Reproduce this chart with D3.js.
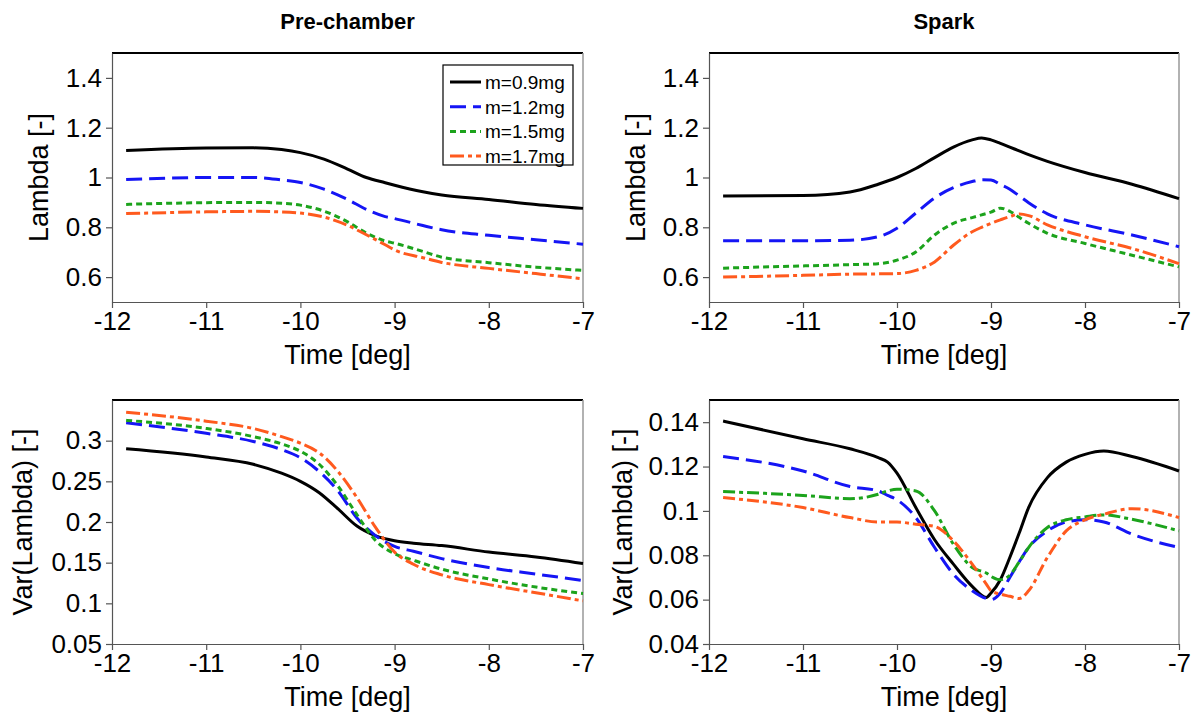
<!DOCTYPE html>
<html lang="en">
<head>
<meta charset="UTF-8">
<title>Lambda over time</title>
<style>
  body { margin: 0; background: #fff; }
  svg { font-family: "Liberation Sans", Arial, sans-serif; }
  .axis path, .axis line { stroke: #555; stroke-width: 1.2; }
  .axis text { fill: #000; font-size: 26px; }
  .label { font-size: 27px; fill: #000; }
  .title { font-size: 22px; font-weight: bold; fill: #000; }
  .legend text { font-size: 19px; fill: #000; }
</style>
<script src="https://d3js.org/d3.v7.min.js"></script>
</head>
<body>
<script>
// series labels
const seriesNames = ["m=0.9mg", "m=1.2mg", "m=1.5mg", "m=1.7mg"];

// Pre-chamber, Lambda
const timePL = [-11.85, -11, -10.5, -10.2, -10, -9.75, -9.5, -9.3, -9.1, -9, -8.7, -8.5, -8, -7.5, -7];
const pl09 = [1.108, 1.118, 1.119, 1.112, 1.10, 1.074, 1.034, 1.0, 0.979, 0.969, 0.943, 0.93, 0.912, 0.892, 0.876];
const pl12 = [0.992, 1.0, 1.0, 0.99, 0.98, 0.953, 0.912, 0.872, 0.843, 0.835, 0.807, 0.79, 0.768, 0.75, 0.732];
const pl15 = [0.892, 0.899, 0.9, 0.897, 0.889, 0.865, 0.822, 0.777, 0.745, 0.736, 0.703, 0.68, 0.658, 0.64, 0.627];
const pl17 = [0.855, 0.862, 0.864, 0.862, 0.857, 0.841, 0.808, 0.77, 0.73, 0.709, 0.678, 0.659, 0.635, 0.614, 0.593];

// Spark, Lambda
const timeSL = [-11.85, -11, -10.5, -10.2, -10, -9.8, -9.6, -9.4, -9.2, -9.1, -9, -8.9, -8.8, -8.7, -8.6, -8.4, -8, -7.5, -7];
const sl09 = [0.926, 0.928, 0.942, 0.973, 1.0, 1.036, 1.08, 1.122, 1.151, 1.159, 1.151, 1.137, 1.122, 1.107, 1.092, 1.065, 1.02, 0.973, 0.915];
const sl12 = [0.746, 0.746, 0.748, 0.762, 0.796, 0.857, 0.918, 0.959, 0.984, 0.991, 0.99, 0.972, 0.953, 0.926, 0.899, 0.854, 0.81, 0.769, 0.722];
const sl15 = [0.636, 0.645, 0.65, 0.654, 0.668, 0.701, 0.769, 0.816, 0.839, 0.85, 0.861, 0.877, 0.864, 0.84, 0.816, 0.776, 0.735, 0.688, 0.641];
const sl17 = [0.6, 0.607, 0.612, 0.613, 0.614, 0.627, 0.661, 0.728, 0.782, 0.80, 0.816, 0.83, 0.843, 0.853, 0.847, 0.81, 0.762, 0.715, 0.654];

// Pre-chamber, Var(Lambda)
const timePV = [-11.85, -11, -10.5, -10.2, -10, -9.8, -9.6, -9.4, -9.2, -9, -8.8, -8.5, -8, -7.5, -7];
const pv09 = [0.290, 0.280, 0.271, 0.260, 0.250, 0.236, 0.216, 0.195, 0.183, 0.177, 0.174, 0.171, 0.163, 0.157, 0.149];
const pv12 = [0.322, 0.309, 0.299, 0.289, 0.279, 0.262, 0.238, 0.205, 0.183, 0.170, 0.164, 0.155, 0.144, 0.136, 0.128];
const pv15 = [0.325, 0.315, 0.305, 0.296, 0.287, 0.271, 0.244, 0.209, 0.177, 0.161, 0.153, 0.142, 0.130, 0.120, 0.112];
const pv17 = [0.335, 0.324, 0.315, 0.305, 0.297, 0.285, 0.262, 0.230, 0.193, 0.163, 0.148, 0.135, 0.123, 0.113, 0.103];

// Spark, Var(Lambda)
const timeSV = [-11.85, -11, -10.5, -10.2, -10.1, -10, -9.8, -9.6, -9.4, -9.2, -9.05, -9, -8.9, -8.8, -8.7, -8.6, -8.4, -8.2, -8, -7.8, -7.5, -7];
const sv09 = [0.1405, 0.1325, 0.128, 0.124, 0.122, 0.117, 0.1015, 0.087, 0.076, 0.066, 0.061, 0.063, 0.069, 0.079, 0.090, 0.1015, 0.115, 0.122, 0.1255, 0.127, 0.1245, 0.118];
const sv12 = [0.1245, 0.118, 0.111, 0.109, 0.107, 0.105, 0.097, 0.0835, 0.0715, 0.064, 0.0605, 0.060, 0.063, 0.070, 0.077, 0.0835, 0.091, 0.095, 0.096, 0.095, 0.0895, 0.0835];
const sv15 = [0.1087, 0.107, 0.1055, 0.1075, 0.109, 0.1098, 0.109, 0.100, 0.085, 0.0745, 0.072, 0.0705, 0.069, 0.071, 0.077, 0.0835, 0.0925, 0.096, 0.0973, 0.0982, 0.0962, 0.091];
const sv17 = [0.106, 0.1015, 0.097, 0.095, 0.095, 0.095, 0.094, 0.093, 0.0865, 0.076, 0.067, 0.064, 0.0625, 0.0615, 0.0605, 0.064, 0.079, 0.091, 0.096, 0.0985, 0.101, 0.097];

const lambdaTicks = [0.6, 0.8, 1, 1.2, 1.4];
const varTicksP = [0.05, 0.1, 0.15, 0.2, 0.25, 0.3];
const varTicksS = [0.04, 0.06, 0.08, 0.1, 0.12, 0.14];
const timeTicks = [-12, -11, -10, -9, -8, -7];

const colors = ["#000000", "#1515f5", "#1ca31c", "#ff5a1e"];
const dashes = ["none", "16,7", "6,4", "14,4,4,4"];

const svg = d3.select("body").append("svg")
  .attr("width", 1198)
  .attr("height", 715);

const panels = [
  { left: 112, right: 583, top: 53, bottom: 302, domain: [0.5, 1.5], ticks: lambdaTicks,
    ylabel: "Lambda [-]", labelOff: 64, title: "Pre-chamber",
    time: timePL, series: [pl09, pl12, pl15, pl17], legend: true },
  { left: 709, right: 1179, top: 53, bottom: 302, domain: [0.5, 1.5], ticks: lambdaTicks,
    ylabel: "Lambda [-]", labelOff: 64, title: "Spark",
    time: timeSL, series: [sl09, sl12, sl15, sl17] },
  { left: 112, right: 583, top: 400, bottom: 644, domain: [0.05, 0.35], ticks: varTicksP,
    ylabel: "Var(Lambda) [-]", labelOff: 80,
    time: timePV, series: [pv09, pv12, pv15, pv17] },
  { left: 709, right: 1179, top: 400, bottom: 644, domain: [0.04, 0.15], ticks: varTicksS,
    ylabel: "Var(Lambda) [-]", labelOff: 77,
    time: timeSV, series: [sv09, sv12, sv15, sv17],
    dash: ["none", "16,7", "12,4,4,4", "12,4,4,4"] }
];

panels.forEach(p => {
  const x = d3.scaleLinear().domain([-12, -7]).range([p.left, p.right]);
  const y = d3.scaleLinear().domain(p.domain).range([p.bottom, p.top]);

  // frame: top black, right grey
  svg.append("line")
    .attr("x1", p.left).attr("x2", p.right)
    .attr("y1", p.top).attr("y2", p.top)
    .attr("stroke", "#000").attr("stroke-width", 2);
  svg.append("line")
    .attr("x1", p.right).attr("x2", p.right)
    .attr("y1", p.top).attr("y2", p.bottom)
    .attr("stroke", "#999").attr("stroke-width", 1.5);

  svg.append("g")
    .attr("class", "axis")
    .attr("transform", `translate(0,${p.bottom})`)
    .call(d3.axisBottom(x).tickValues(timeTicks).tickSize(6).tickSizeOuter(0).tickPadding(4).tickFormat(d => String(d)));

  svg.append("g")
    .attr("class", "axis")
    .attr("transform", `translate(${p.left},0)`)
    .call(d3.axisLeft(y).tickValues(p.ticks).tickSize(6).tickSizeOuter(0).tickPadding(4).tickFormat(d => String(d)));

  svg.selectAll(".axis text").style("font-size", "26px");

  const line = d3.line()
    .x((d, i) => x(p.time[i]))
    .y(d => y(d))
    .curve(d3.curveMonotoneX);

  p.series.forEach((s, k) => {
    svg.append("path")
      .datum(s)
      .attr("fill", "none")
      .attr("stroke", colors[k])
      .attr("stroke-width", 3)
      .attr("stroke-dasharray", (p.dash || dashes)[k])
      .attr("d", line);
  });

  svg.append("text")
    .attr("class", "label")
    .attr("text-anchor", "middle")
    .attr("x", (p.left + p.right) / 2)
    .attr("y", p.bottom + 62)
    .text("Time [deg]");

  svg.append("text")
    .attr("class", "label")
    .attr("text-anchor", "middle")
    .attr("transform", "rotate(-90)")
    .attr("x", -(p.top + p.bottom) / 2)
    .attr("y", p.left - p.labelOff)
    .text(p.ylabel);

  if (p.title) {
    svg.append("text")
      .attr("class", "title")
      .attr("text-anchor", "middle")
      .attr("x", (p.left + p.right) / 2)
      .attr("y", 29)
      .text(p.title);
  }

  if (p.legend) {
    const lg = svg.append("g").attr("class", "legend");
    lg.append("rect")
      .attr("x", 443).attr("y", 65)
      .attr("width", 130).attr("height", 100)
      .attr("fill", "#fff").attr("stroke", "#000").attr("stroke-width", 1.2);
    seriesNames.forEach((name, k) => {
      const yy = 82 + k * 24.7;
      lg.append("line")
        .attr("x1", 450).attr("x2", 481)
        .attr("y1", yy).attr("y2", yy)
        .attr("stroke", colors[k]).attr("stroke-width", 3)
        .attr("stroke-dasharray", dashes[k]);
      lg.append("text")
        .attr("x", 485).attr("y", yy + 7)
        .text(name);
    });
  }
});
</script>
</body>
</html>
